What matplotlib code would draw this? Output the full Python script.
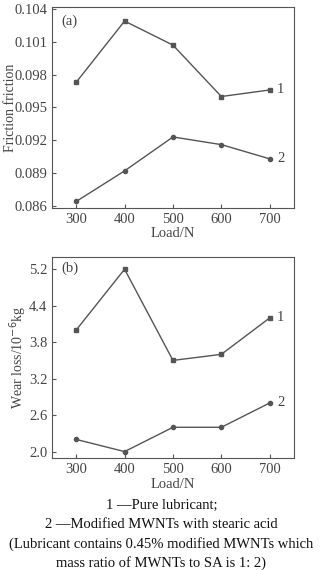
import numpy as np
import matplotlib.pyplot as plt

plt.rcParams['font.family'] = ['Liberation Serif', 'DejaVu Serif']

# data
load = [300, 400, 500, 600, 700]
fric_1 = [0.0973, 0.1029, 0.1007, 0.0960, 0.0966]
fric_2 = [0.0864, 0.0892, 0.0923, 0.0916, 0.0903]
wear_1 = [4.0, 5.0, 3.5, 3.6, 4.2]
wear_2 = [2.2, 2.0, 2.4, 2.4, 2.8]
fric_ticks = [0.086, 0.089, 0.092, 0.095, 0.098, 0.101, 0.104]
wear_ticks = [2.0, 2.6, 3.2, 3.8, 4.4, 5.0]
wear_ticklabels = ['2.0', '2.6', '3.2', '3.8', '4.4', '5.2']

col = '#555555'
fig = plt.figure(figsize=(3.23, 5.70), dpi=100)
ax1 = fig.add_axes([0.161, 0.635, 0.749, 0.353])
ax2 = fig.add_axes([0.161, 0.196, 0.749, 0.353])

for ax in (ax1, ax2):
    for s in ax.spines.values():
        s.set_color(col)
        s.set_linewidth(0.8)
    ax.tick_params(direction='in', length=3, colors=col, labelcolor='#444444',
                   labelsize=10.5, width=0.8)
    ax.set_xlim(250, 750)
    ax.set_xticks(load)

# (a) friction
ax1.plot(load, fric_1, color=col, lw=1, marker='s', ms=3.5)
ax1.plot(load, fric_2, color=col, lw=1, marker='o', ms=3)
ax1.set_ylim(0.0858, 0.1042)
ax1.set_yticks(fric_ticks)
ax1.set_yticklabels(['%.3f' % t for t in fric_ticks])
ax1.set_xlabel('Load/N', fontsize=10.5, color='#444444', labelpad=1)
ax1.set_ylabel('Friction friction', fontsize=10, color='#444444', va='center')
ax1.yaxis.set_label_coords(-0.172, 0.5)
ax1.text(0.04, 0.96, '(a)', transform=ax1.transAxes, va='top', fontsize=10.5, color='#444444')
ax1.text(715, fric_1[-1], '1', va='center', fontsize=10.5, color='#444444')
ax1.text(715, fric_2[-1], '2', va='center', fontsize=10.5, color='#444444')

# (b) wear loss
ax2.plot(load, wear_1, color=col, lw=1, marker='s', ms=3.5)
ax2.plot(load, wear_2, color=col, lw=1, marker='o', ms=3)
ax2.set_ylim(1.89, 5.20)
ax2.set_yticks(wear_ticks)
ax2.set_yticklabels(wear_ticklabels)
ax2.set_xlabel('Load/N', fontsize=10.5, color='#444444', labelpad=1)
ax2.set_ylabel('Wear loss/10$^{-6}$kg', fontsize=10, color='#444444', va='center')
ax2.yaxis.set_label_coords(-0.14, 0.5)
ax2.text(0.04, 0.98, '(b)', transform=ax2.transAxes, va='top', fontsize=10.5, color='#444444')
ax2.text(715, wear_1[-1], '1', va='center', fontsize=10.5, color='#444444')
ax2.text(715, wear_2[-1], '2', va='center', fontsize=10.5, color='#444444')

caption = ['1 \u2014Pure lubricant;',
           '2 \u2014Modified MWNTs with stearic acid',
           '(Lubricant contains 0.45% modified MWNTs which',
           'mass ratio of MWNTs to SA is 1: 2)']
for i, line in enumerate(caption):
    fig.text(0.5, 1 - (505 + 19.3 * i) / 570, line, ha='center', va='center',
             fontsize=10.5, color='#111111')

fig.savefig('out.png', dpi=100)
